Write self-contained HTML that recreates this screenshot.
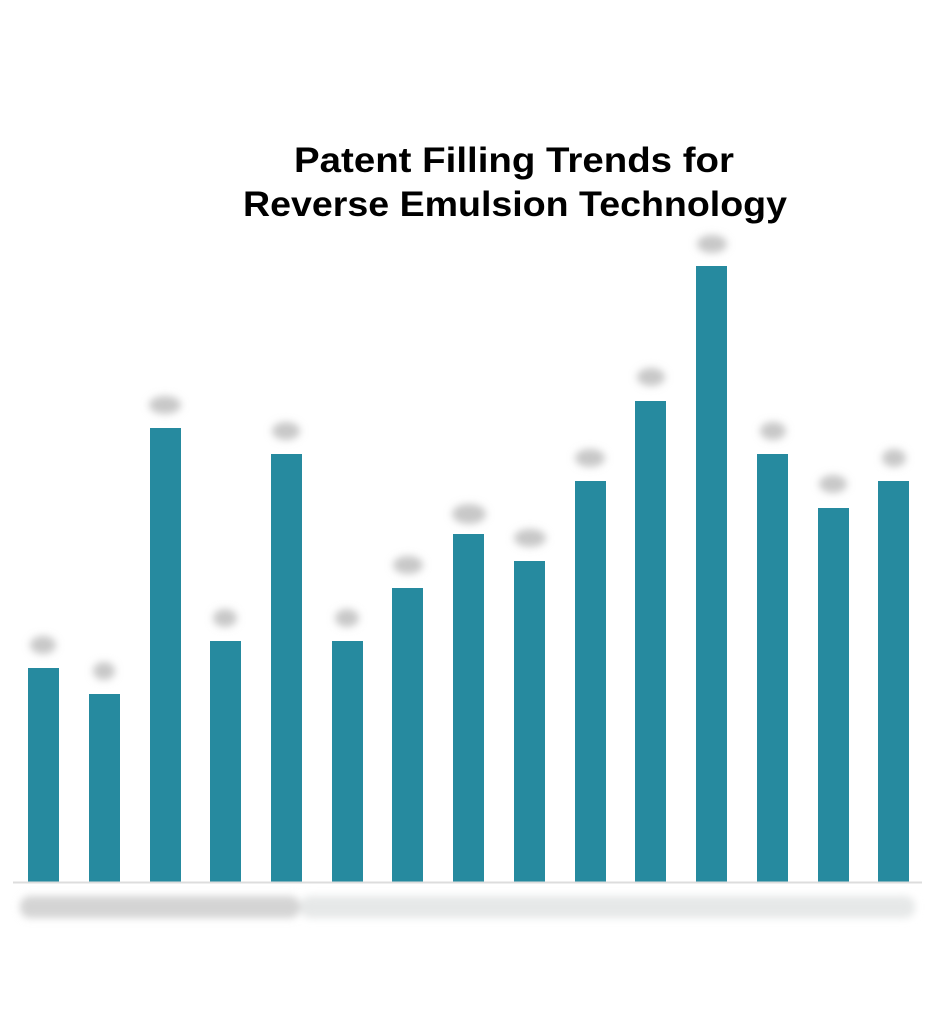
<!DOCTYPE html>
<html><head><style>body{margin:0;background:#fff}svg{display:block}</style></head>
<body>
<svg width="947" height="1024" xmlns="http://www.w3.org/2000/svg">
<defs><filter id="b" x="-50%" y="-50%" width="200%" height="200%"><feGaussianBlur stdDeviation="4"/></filter></defs>
<rect width="947" height="1024" fill="#fff"/>
<g font-family="Liberation Sans, sans-serif" font-weight="bold" font-size="35" fill="#000" text-anchor="middle">
<text x="514" y="172" textLength="440" lengthAdjust="spacingAndGlyphs">Patent Filling Trends for</text>
<text x="515" y="216" textLength="544" lengthAdjust="spacingAndGlyphs">Reverse Emulsion Technology</text>
</g>
<g fill="#268a9f">
<rect x="28" y="668" width="31" height="214"/>
<rect x="89" y="694" width="31" height="188"/>
<rect x="150" y="428" width="31" height="454"/>
<rect x="210" y="641" width="31" height="241"/>
<rect x="271" y="454" width="31" height="428"/>
<rect x="332" y="641" width="31" height="241"/>
<rect x="392" y="588" width="31" height="294"/>
<rect x="453" y="534" width="31" height="348"/>
<rect x="514" y="561" width="31" height="321"/>
<rect x="575" y="481" width="31" height="401"/>
<rect x="635" y="401" width="31" height="481"/>
<rect x="696" y="266" width="31" height="616"/>
<rect x="757" y="454" width="31" height="428"/>
<rect x="818" y="508" width="31" height="374"/>
<rect x="878" y="481" width="31" height="401"/>
</g>
<line x1="13" y1="882.5" x2="922" y2="882.5" stroke="#ddd" stroke-width="2"/>
<g fill="#c8c8c8" filter="url(#b)">
<ellipse cx="43" cy="645" rx="13" ry="9"/>
<ellipse cx="104" cy="671" rx="11" ry="9"/>
<ellipse cx="165" cy="405" rx="16" ry="9"/>
<ellipse cx="225" cy="618" rx="12" ry="9"/>
<ellipse cx="286" cy="431" rx="14" ry="9"/>
<ellipse cx="347" cy="618" rx="12" ry="9"/>
<ellipse cx="408" cy="565" rx="15" ry="9"/>
<ellipse cx="469" cy="514" rx="17" ry="10"/>
<ellipse cx="530" cy="538" rx="16" ry="9"/>
<ellipse cx="590" cy="458" rx="15" ry="9"/>
<ellipse cx="651" cy="377" rx="14" ry="9"/>
<ellipse cx="712" cy="244" rx="15" ry="9"/>
<ellipse cx="773" cy="431" rx="13" ry="9"/>
<ellipse cx="833" cy="484" rx="14" ry="9"/>
<ellipse cx="894" cy="458" rx="12" ry="9"/>
</g>
<g fill="#d4d4d4" filter="url(#b)">
<rect x="20" y="896" width="280" height="22" rx="10"/>
<rect x="300" y="896" width="615" height="22" rx="10" fill="#e6e8e8"/>
</g>
</svg>
</body></html>
